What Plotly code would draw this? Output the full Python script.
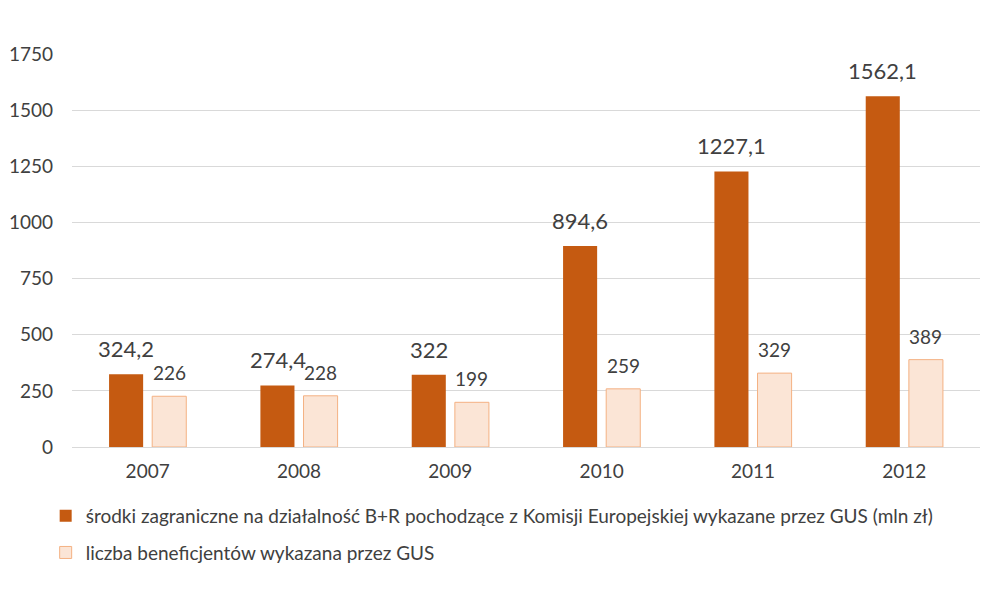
import plotly.graph_objects as go

years = ["2007", "2008", "2009", "2010", "2011", "2012"]
funds = [324.2, 274.4, 322, 894.6, 1227.1, 1562.1]
beneficiaries = [226, 228, 199, 259, 329, 389]
name_funds = "środki zagraniczne na działalność B+R pochodzące z Komisji Europejskiej wykazane przez GUS (mln zł)"
name_benef = "liczba beneficjentów wykazana przez GUS"

def fmt(v):
    return f"{v:g}".replace(".", ",")

FONT = "Lato, 'Open Sans', sans-serif"
TXT = "#404040"

fig = go.Figure()
fig.add_trace(go.Bar(
    x=years, y=funds, name=name_funds, legendgroup="a",
    marker=dict(color="#c55a11", line=dict(color="#c55a11", width=0)),
))
fig.add_trace(go.Bar(
    x=years, y=beneficiaries, name=name_benef, legendgroup="b",
    marker=dict(color="#fbe5d6", line=dict(color="#f4b183", width=1)),
))

# data labels at the data values (category index), offset in pixels for the grouped bars
for i, v in enumerate(funds):
    fig.add_annotation(x=i, y=v, text=fmt(v), showarrow=False,
                       xanchor="center", yanchor="bottom", xshift=-21.5, yshift=10,
                       font=dict(size=22, color=TXT, family=FONT))
for i, v in enumerate(beneficiaries):
    fig.add_annotation(x=i, y=v, text=fmt(v), showarrow=False,
                       xanchor="center", yanchor="bottom", xshift=21.5, yshift=10,
                       font=dict(size=19, color=TXT, family=FONT))

fig.update_layout(
    width=990, height=599,
    paper_bgcolor="white", plot_bgcolor="white",
    margin=dict(l=64, r=18, t=46, b=160),
    barmode="group", bargap=0.43, bargroupgap=0.21,
    font=dict(family=FONT, color=TXT, size=19),
    showlegend=True,
    legend=dict(
        orientation="v", x=-0.029, xanchor="left", y=-0.127, yanchor="top",
        font=dict(size=19, color=TXT, family=FONT),
        traceorder="grouped", tracegroupgap=9,
    ),
)
fig.update_xaxes(
    type="category", categoryorder="array", categoryarray=years,
    range=[-0.5, len(years) - 0.5], automargin=False,
    showgrid=False, showline=True, linecolor="#d9d9d9", linewidth=1,
    ticks="", tickfont=dict(size=19, color=TXT, family=FONT),
    ticklabelstandoff=7,
)
fig.update_yaxes(
    range=[0, 1750], tick0=0, dtick=250, automargin=False,
    showgrid=True, gridcolor="#d9d9d9", gridwidth=1,
    zeroline=False, showline=False, ticks="",
    tickfont=dict(size=19, color=TXT, family=FONT),
    ticklabelstandoff=18,
)

fig.write_html("out.html")
